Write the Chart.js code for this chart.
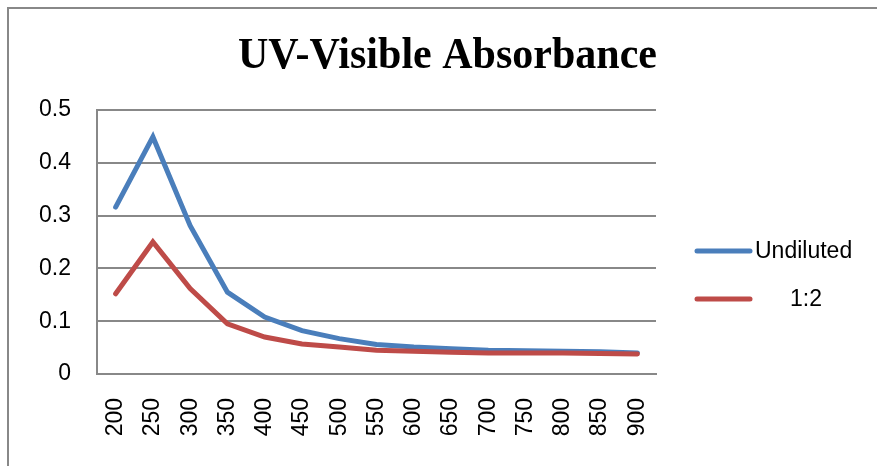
<!DOCTYPE html>
<html>
<head>
<meta charset="utf-8">
<script src="https://cdn.jsdelivr.net/npm/chart.js@4.4.1/dist/chart.umd.min.js"></script>
<style>
  html, body { margin: 0; padding: 0; background: #fff; }
  #wrap { width: 877px; height: 466px; }
</style>
</head>
<body>
<div id="wrap"><canvas id="c" width="877" height="466"></canvas></div>
<script>
// data
const wavelengths = ['200', '250', '300', '350', '400', '450', '500', '550', '600', '650', '700', '750', '800', '850', '900'];
const undiluted = [0.316, 0.449, 0.281, 0.155, 0.108, 0.082, 0.067, 0.056, 0.051, 0.048, 0.045, 0.044, 0.043, 0.042, 0.040];
const diluted = [0.152, 0.250, 0.162, 0.095, 0.070, 0.057, 0.051, 0.045, 0.043, 0.041, 0.040, 0.040, 0.040, 0.039, 0.038];
const seriesNames = ['Undiluted', '1:2'];
const seriesColors = ['#4a7ebb', '#be4b48'];
const chartTitle = 'UV-Visible Absorbance';

const gridColor = '#888888';
const tickFont = { family: "'Liberation Sans', Arial, sans-serif", size: 23 };

// frame, title and legend drawn on the canvas
const decorations = {
    id: 'decorations',
    beforeDraw(chart) {
        const ctx = chart.ctx;
        ctx.save();
        ctx.fillStyle = '#fff';
        ctx.fillRect(0, 0, chart.width, chart.height);
        ctx.strokeStyle = gridColor;
        ctx.lineWidth = 2;
        ctx.strokeRect(8, 8, chart.width + 20, chart.height + 20);
        ctx.restore();
    },
    afterDraw(chart) {
        const ctx = chart.ctx;
        ctx.save();
        // title, slightly condensed like the original
        ctx.font = "bold 45px 'Liberation Serif', 'Times New Roman', serif";
        ctx.fillStyle = '#000';
        ctx.textBaseline = 'alphabetic';
        const w = ctx.measureText(chartTitle).width;
        const targetW = 419;
        ctx.translate(447.5, 68);
        ctx.scale(targetW / w, 1);
        ctx.textAlign = 'center';
        ctx.fillText(chartTitle, 0, 0);
        ctx.restore();

        // legend
        ctx.save();
        ctx.font = "23px 'Liberation Sans', Arial, sans-serif";
        ctx.textBaseline = 'middle';
        ctx.textAlign = 'left';
        ctx.lineCap = 'round';
        const rows = [251, 299];
        const textX = [755, 790];
        chart.data.datasets.forEach((ds, i) => {
            ctx.strokeStyle = ds.borderColor;
            ctx.lineWidth = 5;
            ctx.beginPath();
            ctx.moveTo(697, rows[i]);
            ctx.lineTo(750, rows[i]);
            ctx.stroke();
            ctx.fillStyle = '#000';
            ctx.fillText(ds.label, textX[i], rows[i] + 1);
        });
        ctx.restore();
    }
};

new Chart(document.getElementById('c'), {
    type: 'line',
    data: {
        labels: wavelengths,
        datasets: [
            {
                label: seriesNames[0],
                data: undiluted,
                borderColor: seriesColors[0],
                backgroundColor: seriesColors[0],
                borderWidth: 5,
                borderCapStyle: 'round',
                pointRadius: 0,
                tension: 0,
                order: 1
            },
            {
                label: seriesNames[1],
                data: diluted,
                borderColor: seriesColors[1],
                backgroundColor: seriesColors[1],
                borderWidth: 5,
                borderCapStyle: 'round',
                pointRadius: 0,
                tension: 0,
                order: 0
            }
        ]
    },
    options: {
        responsive: false,
        animation: false,
        layout: {
            padding: { left: 0, right: 221, top: 110, bottom: 0 }
        },
        plugins: {
            legend: { display: false },
            title: { display: false },
            tooltip: { enabled: false }
        },
        scales: {
            x: {
                offset: true,
                grid: { display: false, drawTicks: false },
                border: { display: true, color: gridColor, width: 2 },
                ticks: {
                    color: '#000',
                    font: tickFont,
                    minRotation: 90,
                    maxRotation: 90,
                    padding: 24,
                    autoSkip: false
                },
                afterFit(scale) { scale.height = 92; }
            },
            y: {
                min: 0,
                max: 0.5,
                grid: { color: gridColor, lineWidth: 2, drawTicks: false },
                border: { display: true, color: gridColor, width: 2 },
                ticks: {
                    stepSize: 0.1,
                    color: '#000',
                    font: tickFont,
                    padding: 26
                },
                afterFit(scale) { scale.width = 97; }
            }
        }
    },
    plugins: [decorations]
});
</script>
</body>
</html>
